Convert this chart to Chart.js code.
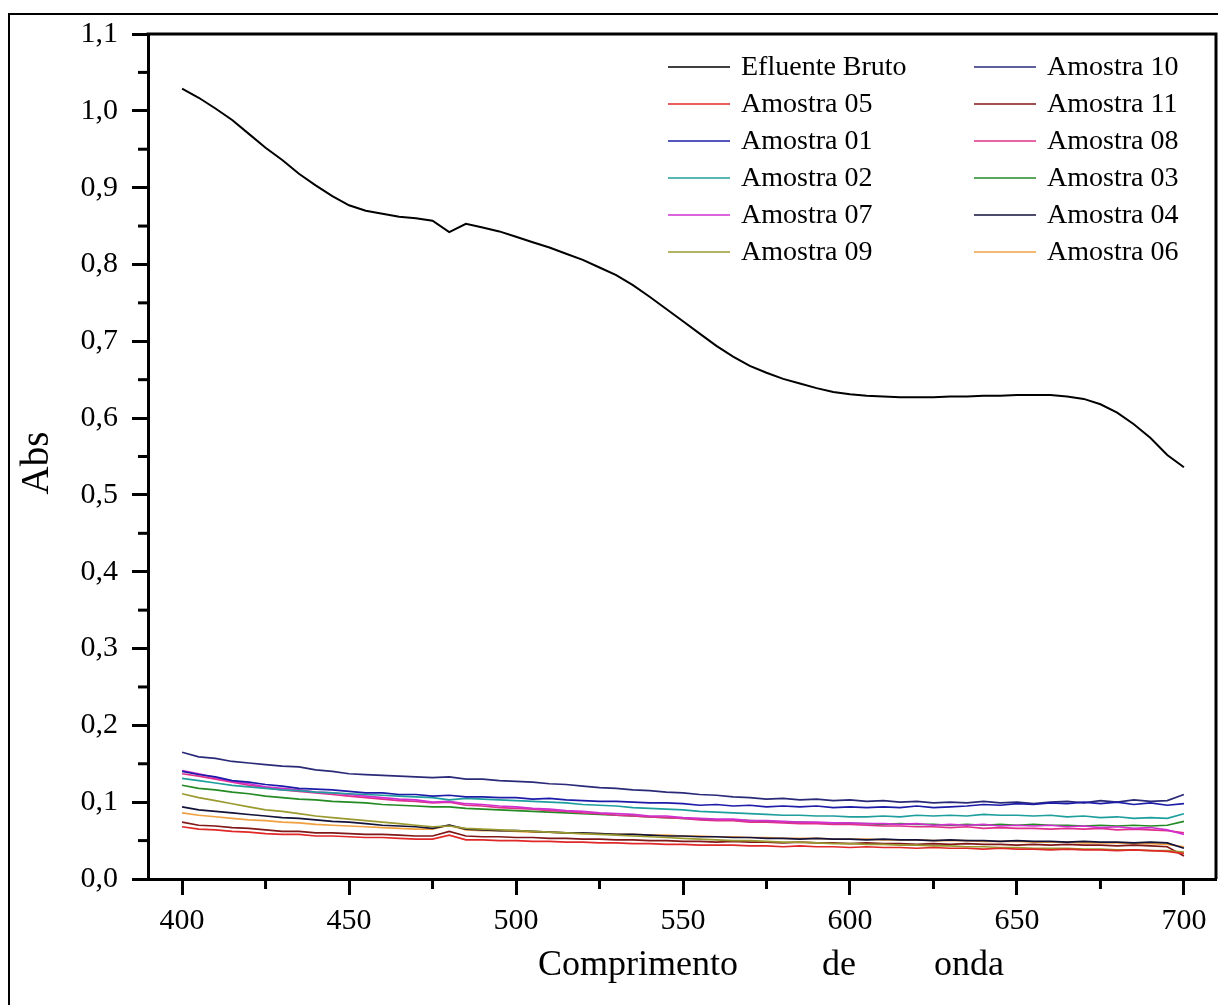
<!DOCTYPE html>
<html><head><meta charset="utf-8">
<script src="https://cdn.jsdelivr.net/npm/chart.js@4"></script>
<style>html,body{margin:0;padding:0;background:#fff}#wrap{position:relative;width:1218px;height:1005px}</style>
</head><body><div id="wrap"><canvas id="c" width="1218" height="1005"></canvas></div>
<script>
const wavelengths = [400,405,410,415,420,425,430,435,440,445,450,455,460,465,470,475,480,485,490,495,500,505,510,515,520,525,530,535,540,545,550,555,560,565,570,575,580,585,590,595,600,605,610,615,620,625,630,635,640,645,650,655,660,665,670,675,680,685,690,695,700];

const efluenteBruto = [1.029,1.017,1.003,0.988,0.970,0.952,0.936,0.918,0.903,0.889,0.877,0.870,0.866,0.862,0.860,0.857,0.842,0.853,0.848,0.843,0.836,0.829,0.822,0.814,0.806,0.796,0.786,0.773,0.758,0.742,0.726,0.710,0.694,0.680,0.668,0.659,0.651,0.645,0.639,0.634,0.631,0.629,0.628,0.627,0.627,0.627,0.628,0.628,0.629,0.629,0.630,0.630,0.630,0.628,0.625,0.618,0.607,0.592,0.574,0.552,0.536];
const amostra05 = [.068,.065,.064,.062,.061,.059,.058,.058,.056,.056,.055,.054,.054,.053,.052,.052,.057,.051,.051,.050,.050,.049,.049,.048,.048,.047,.047,.046,.046,.045,.045,.044,.044,.044,.043,.043,.042,.043,.042,.042,.041,.042,.041,.041,.040,.041,.040,.040,.039,.040,.039,.039,.038,.039,.038,.038,.037,.038,.037,.036,.033];
const amostra01 = [.140,.136,.133,.128,.126,.123,.121,.118,.117,.116,.114,.112,.112,.110,.110,.108,.109,.107,.107,.106,.106,.104,.105,.103,.102,.101,.101,.100,.099,.099,.098,.096,.097,.095,.096,.094,.095,.094,.095,.093,.094,.093,.094,.093,.095,.093,.094,.095,.097,.096,.098,.097,.099,.098,.100,.098,.100,.097,.099,.096,.098];
const amostra02 = [.131,.128,.125,.122,.120,.118,.116,.115,.113,.112,.111,.110,.109,.108,.107,.106,.103,.105,.104,.103,.102,.101,.100,.099,.097,.096,.095,.093,.092,.091,.090,.088,.087,.086,.085,.084,.083,.083,.082,.082,.081,.081,.082,.081,.083,.082,.083,.082,.084,.083,.083,.082,.083,.081,.082,.080,.081,.079,.080,.079,.085];
const amostra07 = [.141,.137,.132,.127,.124,.120,.118,.116,.113,.112,.110,.108,.106,.104,.103,.100,.101,.098,.097,.095,.094,.092,.091,.089,.088,.086,.085,.084,.082,.082,.080,.079,.078,.078,.076,.076,.075,.074,.074,.073,.073,.072,.072,.071,.072,.070,.071,.070,.071,.069,.070,.069,.070,.068,.069,.067,.068,.066,.067,.064,.058];
const amostra09 = [.111,.106,.102,.098,.094,.090,.088,.085,.082,.080,.078,.076,.074,.072,.070,.068,.069,.066,.065,.064,.063,.062,.061,.060,.059,.058,.057,.056,.055,.054,.053,.052,.051,.050,.050,.049,.048,.048,.047,.046,.046,.045,.045,.044,.044,.043,.043,.042,.042,.041,.041,.040,.040,.040,.039,.039,.038,.038,.037,.037,.035];
const amostra10 = [.165,.159,.157,.153,.151,.149,.147,.146,.142,.140,.137,.136,.135,.134,.133,.132,.133,.130,.130,.128,.127,.126,.124,.123,.121,.119,.118,.116,.115,.113,.112,.110,.109,.107,.106,.104,.105,.103,.104,.102,.103,.101,.102,.100,.101,.099,.100,.099,.101,.099,.100,.098,.100,.101,.099,.102,.100,.103,.101,.102,.110];
const amostra11 = [.074,.070,.069,.067,.066,.064,.062,.062,.060,.060,.059,.058,.058,.057,.056,.056,.062,.056,.055,.055,.054,.054,.053,.053,.052,.052,.051,.051,.050,.050,.049,.049,.048,.049,.048,.048,.047,.048,.047,.047,.046,.047,.046,.046,.045,.046,.045,.046,.045,.045,.044,.045,.044,.045,.044,.044,.043,.044,.043,.042,.030];
const amostra08 = [.137,.134,.130,.126,.122,.119,.116,.114,.112,.110,.108,.106,.104,.102,.101,.099,.100,.096,.095,.093,.092,.091,.089,.088,.086,.085,.083,.082,.081,.080,.079,.077,.076,.076,.074,.074,.073,.072,.072,.071,.071,.070,.069,.069,.068,.068,.067,.068,.066,.067,.066,.066,.065,.066,.065,.066,.064,.065,.064,.063,.060];
const amostra03 = [.122,.118,.116,.113,.111,.108,.106,.104,.103,.101,.100,.099,.097,.096,.095,.094,.094,.092,.091,.090,.089,.088,.087,.086,.085,.084,.083,.082,.081,.080,.079,.078,.077,.077,.076,.075,.074,.074,.073,.073,.072,.072,.071,.072,.071,.071,.070,.071,.070,.071,.070,.071,.070,.070,.069,.070,.069,.070,.069,.070,.075];
const amostra04 = [.094,.090,.088,.086,.084,.082,.080,.079,.077,.075,.074,.072,.070,.069,.068,.066,.070,.065,.064,.063,.063,.062,.061,.060,.060,.059,.058,.058,.057,.056,.056,.055,.055,.054,.054,.053,.053,.052,.053,.052,.052,.051,.052,.051,.051,.050,.051,.050,.050,.049,.050,.049,.049,.048,.049,.048,.048,.047,.048,.047,.040];
const amostra06 = [.086,.083,.081,.079,.077,.076,.074,.073,.071,.070,.069,.068,.067,.066,.065,.065,.070,.064,.063,.063,.062,.061,.061,.060,.059,.059,.058,.058,.057,.057,.056,.056,.055,.055,.054,.054,.053,.053,.053,.052,.052,.052,.051,.051,.051,.050,.050,.050,.049,.049,.049,.048,.048,.048,.047,.047,.047,.046,.046,.045,.042];

const seriesLabels = ['Efluente Bruto','Amostra 05','Amostra 01','Amostra 02','Amostra 07','Amostra 09','Amostra 10','Amostra 11','Amostra 08','Amostra 03','Amostra 04','Amostra 06'];
const seriesValues = [efluenteBruto,amostra05,amostra01,amostra02,amostra07,amostra09,amostra10,amostra11,amostra08,amostra03,amostra04,amostra06];
const seriesColors = ['#000000','#e02828','#1c1ca8','#1f9e9e','#d030d0','#9a9a30','#2a2a78','#801818','#e0308c','#248a24','#12123a','#f0a040'];
const xTickValues = [400,450,500,550,600,650,700];
const xMinorTicks = [425,475,525,575,625,675];
const yTickValues = [0,0.1,0.2,0.3,0.4,0.5,0.6,0.7,0.8,0.9,1.0,1.1];
const yMinorTicks = [0.05,0.15,0.25,0.35,0.45,0.55,0.65,0.75,0.85,0.95,1.05];
const xTitleWords = ['Comprimento','de','onda'];
const yTitle = 'Abs';

const FONT = '"Liberation Serif", "Times New Roman", serif';

const datasets = seriesLabels.map((lab,i)=>({
  label: lab,
  data: wavelengths.map((w,j)=>({x:w,y:seriesValues[i][j]})),
  borderColor: seriesColors[i],
  backgroundColor: seriesColors[i],
  borderWidth: i===0 ? 2 : 1.7,
  pointRadius: 0,
  tension: 0,
  fill: false
}));

const decor = {
  id: 'decor',
  beforeDraw(chart){
    const ctx = chart.ctx;
    ctx.save();
    ctx.fillStyle = '#fff';
    ctx.fillRect(0,0,chart.width,chart.height);
    ctx.strokeStyle = '#000';
    ctx.lineWidth = 2;
    ctx.beginPath();
    ctx.moveTo(9,1005); ctx.lineTo(9,14); ctx.lineTo(1218,14);
    ctx.stroke();
    ctx.restore();
  },
  afterDraw(chart){
    const ctx = chart.ctx, a = chart.chartArea;
    const xs = chart.scales.x, ys = chart.scales.y;
    ctx.save();
    ctx.strokeStyle = '#000';
    ctx.lineWidth = 3;
    ctx.beginPath();
    ctx.moveTo(a.left-1.5, a.top); ctx.lineTo(a.right, a.top); ctx.lineTo(a.right, a.bottom);
    ctx.stroke();
    xMinorTicks.forEach(v=>{const p=xs.getPixelForValue(v);ctx.beginPath();ctx.moveTo(p,a.bottom);ctx.lineTo(p,a.bottom+10);ctx.stroke();});
    yMinorTicks.forEach(v=>{const p=ys.getPixelForValue(v);ctx.beginPath();ctx.moveTo(a.left,p);ctx.lineTo(a.left-10,p);ctx.stroke();});
    // legend (two columns, inside plot area)
    ctx.font = '28px ' + FONT;
    ctx.textBaseline = 'middle';
    ctx.textAlign = 'left';
    chart.data.datasets.forEach((ds,i)=>{
      const col = i<6?0:1, row = i%6;
      const y = 67 + row*37;
      const sx = col===0?668:974;
      ctx.strokeStyle = ds.borderColor; ctx.lineWidth = 1.7;
      ctx.beginPath(); ctx.moveTo(sx,y); ctx.lineTo(sx+62,y); ctx.stroke();
      ctx.fillStyle = '#000';
      ctx.fillText(ds.label, sx+73, y+1);
    });
    // axis titles
    ctx.font = '36px ' + FONT;
    ctx.textBaseline = 'middle';
    const xPos = [538, 822, 934];
    xTitleWords.forEach((w,i)=>ctx.fillText(w, xPos[i], 966));
    ctx.save();
    ctx.translate(38,463); ctx.rotate(-Math.PI/2);
    ctx.font = '39px ' + FONT; ctx.textAlign='center';
    ctx.fillText(yTitle,0,0);
    ctx.restore();
    ctx.restore();
  }
};

new Chart(document.getElementById('c'), {
  type: 'line',
  data: { datasets },
  options: {
    responsive: false,
    animation: false,
    devicePixelRatio: 1,
    layout: { padding: { left: 0, top: 34, right: 2, bottom: 0 } },
    plugins: { legend: { display: false }, tooltip: { enabled: false } },
    scales: {
      x: {
        type: 'linear', min: 389.8, max: 709.6,
        afterBuildTicks: s => { s.ticks = xTickValues.map(v=>({value:v})); },
        afterFit: s => { s.height = 126; },
        grid: { drawOnChartArea: false, drawTicks: true, tickLength: 16, tickWidth: 3, tickColor: '#000' },
        border: { display: true, width: 3, color: '#000' },
        ticks: { color: '#000', font: { family: FONT, size: 30 }, padding: 8, maxRotation: 0, autoSkip: false, callback: v => String(v) }
      },
      y: {
        type: 'linear', min: 0, max: 1.1,
        afterBuildTicks: s => { s.ticks = yTickValues.map(v=>({value:v})); },
        afterFit: s => { s.width = 148; },
        grid: { drawOnChartArea: false, drawTicks: true, tickLength: 16, tickWidth: 3, tickColor: '#000' },
        border: { display: true, width: 3, color: '#000' },
        ticks: { color: '#000', font: { family: FONT, size: 30 }, padding: 14, autoSkip: false, callback: v => Number(v).toFixed(1).replace('.', ',') }
      }
    }
  },
  plugins: [decor]
});
</script>
</body></html>
